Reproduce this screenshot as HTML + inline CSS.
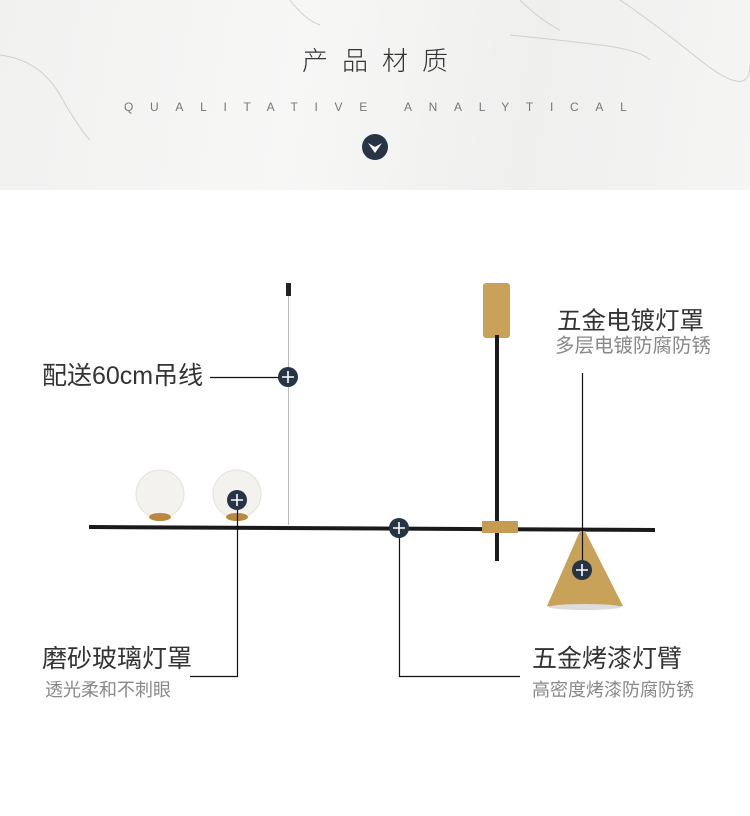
<!DOCTYPE html>
<html><head><meta charset="utf-8"><style>
body{margin:0;width:750px;height:816px;background:#fff;position:relative;overflow:hidden;font-family:"Liberation Sans","Noto Sans CJK SC",sans-serif}
.t{position:absolute;white-space:nowrap;line-height:1}
</style></head><body>
<div style="position:absolute;left:0;top:0;width:750px;height:190px;background:linear-gradient(100deg,#f1f1f0,#f7f7f6 40%,#efefee 70%,#f5f5f4)"></div>
<svg style="position:absolute;left:0;top:0" width="750" height="190">
<g fill="none" stroke="#cfcfcc" stroke-width="1">
<path d="M0 55 Q40 60 60 95 T90 140"/><path d="M290 0 Q305 20 320 25"/><path d="M520 0 Q540 20 560 30"/><path d="M620 0 Q650 20 700 60 T750 65"/><path d="M510 35 Q560 40 600 45 T650 60"/>
</g></svg>
<div class="t" style="left:0;width:750px;text-align:center;top:47px;font-size:26px;color:#333;letter-spacing:14px;text-indent:14px;font-family:'Noto Sans CJK SC',sans-serif;font-weight:300">产品材质</div>
<div class="t" style="left:124px;top:101px;font-size:12px;color:#777;letter-spacing:16.7px">QUALITATIVE&nbsp;ANALYTICAL</div>
<svg style="position:absolute;left:0;top:0" width="750" height="816">
<circle cx="375" cy="147" r="13" fill="#273445"/>
<path d="M368 143 L375 153 L382 143 L375 147 Z" fill="#fff"/>
<line x1="288.5" y1="296" x2="288.5" y2="525" stroke="#bbb" stroke-width="1"/>
<rect x="286" y="283" width="5" height="13" fill="#222"/>
<rect x="483" y="283" width="27" height="55" rx="3" fill="#c9a259"/>
<rect x="495" y="335" width="4" height="226" fill="#1a1a1a"/>
<path d="M89 525 L655 528 L655 532 L89 529 Z" fill="#1a1a1a"/>
<rect x="482" y="521" width="36" height="12" fill="#c69b52"/>
<circle cx="160" cy="494" r="24" fill="#f3f2ef" stroke="#e4e2dd"/>
<circle cx="237" cy="494" r="24" fill="#f3f2ef" stroke="#e4e2dd"/>
<ellipse cx="160" cy="517" rx="11" ry="4" fill="#b8893e"/>
<ellipse cx="237" cy="517" rx="11" ry="4" fill="#b8893e"/>
<path d="M580 531 L585 531 L623 606 Q585 614 547 606 Z" fill="#c9a259"/>
<ellipse cx="585" cy="607" rx="36" ry="3" fill="#ddd"/>
<g stroke="#111" stroke-width="1.2" fill="none">
<line x1="210" y1="377.5" x2="288" y2="377.5"/>
<polyline points="237.5,500 237.5,676.5 190,676.5"/>
<polyline points="399.5,528 399.5,676.5 520,676.5"/>
<line x1="582.5" y1="373" x2="582.5" y2="570"/>
</g>
<g fill="#273445">
<circle cx="288" cy="377" r="10"/><circle cx="237" cy="500" r="10"/><circle cx="399" cy="528" r="10"/><circle cx="582" cy="570" r="10"/>
</g>
<g stroke="#fff" stroke-width="1.6">
<path d="M282 377h12M288 371v12"/><path d="M231 500h12M237 494v12"/><path d="M393 528h12M399 522v12"/><path d="M576 570h12M582 564v12"/>
</g>
</svg>
<div class="t" style="left:42px;top:364px;font-size:25px;color:#333">配送60cm吊线</div>
<div class="t" style="left:557px;top:310px;font-size:24.5px;color:#333">五金电镀灯罩</div>
<div class="t" style="left:555px;top:337px;font-size:19.5px;color:#888">多层电镀防腐防锈</div>
<div class="t" style="left:42px;top:647px;font-size:25px;color:#333">磨砂玻璃灯罩</div>
<div class="t" style="left:45px;top:681px;font-size:18px;color:#888">透光柔和不刺眼</div>
<div class="t" style="left:532px;top:647px;font-size:25px;color:#333">五金烤漆灯臂</div>
<div class="t" style="left:532px;top:681px;font-size:18px;color:#888">高密度烤漆防腐防锈</div>
</body></html>
